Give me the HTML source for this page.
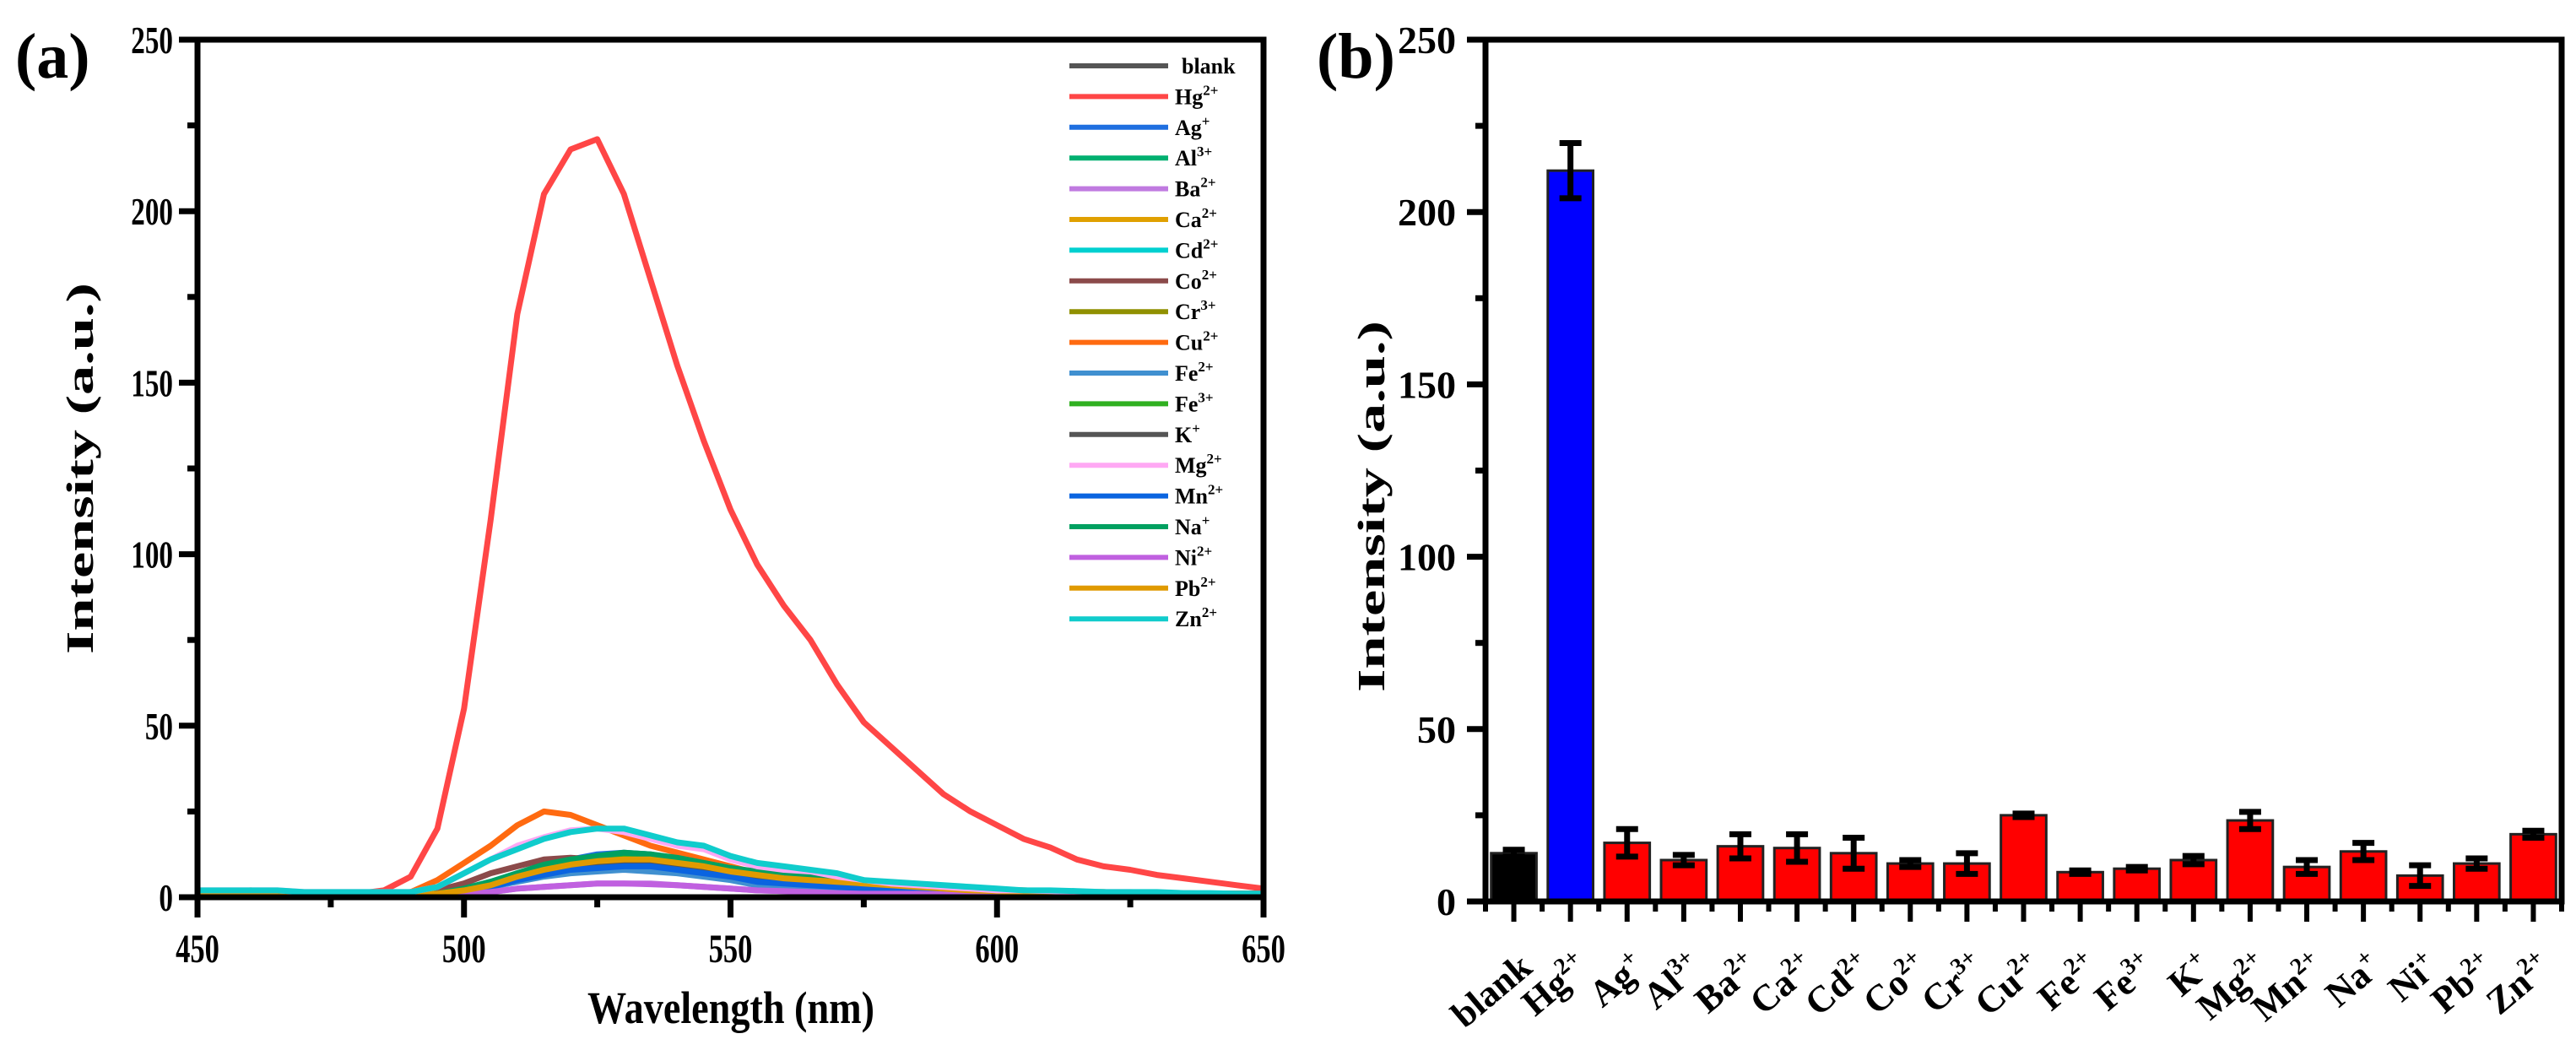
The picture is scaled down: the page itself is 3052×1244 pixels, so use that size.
<!DOCTYPE html>
<html><head><meta charset="utf-8">
<style>
html,body{margin:0;padding:0;background:#fff;}
svg{display:block;font-family:"Liberation Serif",serif;font-weight:bold;}
</style></head>
<body>
<svg id="fig" width="3052" height="1244" viewBox="0 0 3052 1244" xmlns="http://www.w3.org/2000/svg">
<text x="18" y="92" font-size="76">(a)</text>
<text x="1560" y="92" font-size="76">(b)</text>
<g id="left"></g>
<g id="right"></g>
</svg>
<script>
// ---------- data: spectra (wavelength 450..650 step 5) ----------
const wavelengths = [450,455,460,465,470,475,480,485,490,495,500,505,510,515,520,525,530,535,540,545,550,555,560,565,570,575,580,585,590,595,600,605,610,615,620,625,630,635,640,645,650];
const ionNames = ["blank","Hg","Ag","Al","Ba","Ca","Cd","Co","Cr","Cu","Fe","Fe","K","Mg","Mn","Na","Ni","Pb","Zn"];
const ionCharges = ["","2+","+","3+","2+","2+","2+","2+","3+","2+","2+","3+","+","2+","2+","+","2+","2+","2+"];
const ionColors = ["#555555","#ff4646","#1f6fe0","#00b070","#c07ae0","#e0a000","#00d0d0","#8b4a4a","#909000","#ff6a10","#4090d0","#30b020","#555555","#ffa8f4","#0a64e0","#00a060","#c060e0","#e09a00","#10cccc"];
const sBlank = [1.5,1.5,1.8,1.2,1,1,1,1.2,1.5,1,2,3.5,5.5,7,8,8.5,9,9,8.5,7.5,6.5,5.5,5,4.5,4,3.5,3,2.5,2,1.8,1.5,1.5,1.2,1.2,1,1,1,1,1,1,1];
const sHg = [1,1,1,1,1,1,1,2,6,20,55,110,170,205,218,221,205,180,155,133,113,97,85,75,62,51,44,37,30,25,21,17,14.5,11,9,8,6.5,5.5,4.5,3.5,2.5];
const sAg = [1.5,1.5,1.5,1.2,1,1,1,1,1,1,2,4,7,9,11,12.5,13,12.5,11,9.5,8,6.5,6,5,4,3.5,3,2.5,2,2,1.8,1.5,1.5,1.5,1.2,1.2,1,1,1,1,1];
const sAl = [1.5,1.5,1.5,1.2,1,1,1,1,1,1,2,4,6.5,8.5,10,11.5,12,11.5,10.5,9,8,7,6,5,4.5,4,3.5,3,2.5,2.2,2,1.8,1.5,1.5,1.2,1.2,1.2,1,1,1,1];
const sBa = [1.5,1.5,1.5,1.2,1,1,1,1,1,0.5,1,1.5,2.5,3,3.5,4,4,4,3.5,3,2.5,2,1.8,1.5,1.2,1,1,1,0.8,0.8,0.8,0.6,0.6,0.6,0.5,0.5,0.5,0.5,0.5,0.5,0.5];
const sCa = [0.8,0.8,1,1,1,1,1,1,1,1,2,3,5,7,8.5,9.5,10,10,9,8,7,6,5,4.5,4,3.5,3,2.5,2,1.8,1.5,1.5,1.2,1.2,1,1,1,1,1,1,1];
const sCd = [1.5,1.5,1.5,1.2,1,1,1,1,1,1,2.5,4.5,7,9,10.5,11.5,12,11.5,10.5,9.5,8,6.5,6,5,4.5,4,3.5,3,2.5,2,2,1.8,1.5,1.5,1.2,1.2,1,1,1,1,1];
const sCo = [1.5,1.5,1.5,1.2,1,1,1,1,1,2,4,7,9,11,11.5,11,10,9,8,7,6,5,4.5,4,3.5,3,2.5,2,2,1.8,1.5,1.5,1.2,1,1,1,1,1,1,1,1];
const sCr = [1.5,1.5,1.5,1.2,1,1,1,1,1,1,2,4,6,8,9.5,10.5,11,11,10,9,7.5,6.5,5.5,5,4.5,4,3.5,3,2.5,2,1.8,1.5,1.5,1.2,1.2,1,1,1,1,1,1];
const sCu = [1,1,1,1,1,1,1,1,1.5,5,10,15,21,25,24,21,18,15,13,11,9,7,6,5,4,3.5,3,2.5,2,1.8,1.5,1.5,1.2,1,1,1,1,1,1,1,1];
const sFe2 = [1.5,1.5,1.5,1.2,1,1,1,1,1,1,1.5,3,4.5,6,7,7.5,8,7.5,7,6,5,3.5,3,2.5,2,1.8,1.5,1.5,1.2,1.2,1,1,1,1,1,1,1,1,1,1,1];
const sFe3 = [1.5,1.5,2,1.2,1,1,1,1,1,1,2,4,6.5,8.5,10,11.5,12,12,11,10,8.5,7,6.5,6,5,4.5,4,3.5,3,2.5,2.2,2,1.8,1.5,1.5,1.2,1.2,1.2,1,1,1];
const sK = [1.5,1.5,1.5,1.2,1,1,1,1,1,1,2,3.5,5.5,7.5,9,9.5,10,9.5,8.5,7.5,6.5,5.5,5,4.5,4,3.5,3,2.5,2,1.8,1.5,1.5,1.2,1.2,1,1,1,1,1,1,1];
const sMg = [2,2,2,2,1.5,1.5,1.5,1.5,1.5,3,7,11,15,17.5,19.5,20,19,17,15,14,11,9,8,7.5,6,5,4,3.5,3,2.5,2,2,1.8,1.5,1.5,1.5,1.2,1.2,1,1,1];
const sMn = [1.5,1.5,1.5,1.2,1,1,1,1,1,1,2,3,5,6.5,8,8.5,9,9,8,7,6,4.5,4,3.5,3,2.5,2,1.8,1.5,1.5,1.2,1.2,1,1,1,1,1,1,1,1,1];
const sNa = [1.5,1.5,1.5,1.2,1,1,1,1,1,1,2.5,4.5,7,9.5,11,12,13,12.5,11.5,10,8.5,7.5,6.5,6,5,4.5,4,3.5,3,2.5,2.2,2,1.8,1.5,1.5,1.2,1.2,1,1,1,1];
const sNi = [1.5,1.5,1.5,1.2,1,1,1,1,1,0.5,1,1.5,2.5,3,3.5,4,4,3.8,3.5,3,2.5,2,1.8,1.5,1.2,1,1,1,0.8,0.8,0.8,0.6,0.6,0.6,0.5,0.5,0.5,0.5,0.5,0.5,0.5];
const sPb = [0.8,0.8,1,1,1,1,1,1,1,1,2,3.5,6,8,9.5,10.5,11,11,10,9,7.5,6.5,5.5,5,4.5,4,3.5,3,2.5,2,1.8,1.5,1.5,1.2,1.2,1,1,1,1,1,1];
const sZn = [2,2,2,2,1.5,1.5,1.5,1.5,1.5,3,7,11,14,17,19,20,20,18,16,15,12,10,9,8,7,5,4.5,4,3.5,3,2.5,2,2,1.8,1.5,1.5,1.5,1.2,1.2,1,1];
const spectra = [sBlank,sHg,sAg,sAl,sBa,sCa,sCd,sCo,sCr,sCu,sFe2,sFe3,sK,sMg,sMn,sNa,sNi,sPb,sZn];
const xTicksA = [450,500,550,600,650];
const yTicks = [0,50,100,150,200,250];

// ---------- data: bars ----------
const barCats = ["blank","Hg","Ag","Al","Ba","Ca","Cd","Co","Cr","Cu","Fe","Fe","K","Mg","Mn","Na","Ni","Pb","Zn"];
const barCharges = ["","2+","+","3+","2+","2+","2+","2+","3+","2+","2+","3+","+","2+","2+","+","+","2+","2+"];
const barValues = [14,212,17,12,16,15.5,14,11,11,25,8.5,9.5,12,23.5,10,14.5,7.5,11,19.5];
const barErrors = [1,8,4,1.5,3.5,4,4.5,1,3,0.5,0.5,0.5,1.2,2.5,2,2.5,3,1.5,1];
const barColors = ["#000000","#0000ff","#ff0000","#ff0000","#ff0000","#ff0000","#ff0000","#ff0000","#ff0000","#ff0000","#ff0000","#ff0000","#ff0000","#ff0000","#ff0000","#ff0000","#ff0000","#ff0000","#ff0000"];

const NS = "http://www.w3.org/2000/svg";
function mk(tag, attrs, parent){const e=document.createElementNS(NS,tag);for(const k in attrs)e.setAttribute(k,attrs[k]);parent.appendChild(e);return e;}

// ---------- panel A ----------
const A = document.getElementById('left');
const aL=234, aR=1497, aT=47, aB=1063;
const ax = v => aL + (v-450)/(650-450)*(aR-aL);
const ay = v => aB - v/250*(aB-aT);

const clipA = mk('clipPath',{id:'clipA'},A);
mk('rect',{x:aL,y:aT,width:aR-aL,height:aB-aT},clipA);
const linesG = mk('g',{'clip-path':'url(#clipA)'},A);


const order=[1,0,2,3,4,5,6,7,8,9,10,11,12,14,15,16,17,13,18];
order.forEach(i=>{
  const d = wavelengths.map((w,j)=>(j?'L':'M')+ax(w).toFixed(1)+','+ay(spectra[i][j]).toFixed(1)).join(' ');
  const p = mk('path',{d:d,fill:'none',stroke:ionColors[i],'stroke-width':7,'stroke-linejoin':'round'},linesG);
  
  
});
const frA = mk('rect',{x:aL,y:aT,width:aR-aL,height:aB-aT,fill:'none',stroke:'#000','stroke-width':7},A);


for(let v=0; v<=250; v+=25){
  const major = v%50===0;
  mk('line',{x1:aL-(major?22:12),x2:aL,y1:ay(v),y2:ay(v),stroke:'#000','stroke-width':7},A);
}
yTicks.forEach(v=>{
  const t=mk('text',{x:205,y:ay(v)+16,'font-size':46,'text-anchor':'end',transform:`translate(205,0) scale(0.72,1) translate(-205,0)`},A);
  t.textContent=v;
  
  
});
for(let v=450; v<=650; v+=25){
  const major = v%50===0;
  mk('line',{x1:ax(v),x2:ax(v),y1:aB,y2:aB+(major?24:12),stroke:'#000','stroke-width':7},A);
}
xTicksA.forEach(v=>{
  const x=ax(v);
  const t=mk('text',{x:x,y:1140,'font-size':48,'text-anchor':'middle',transform:`translate(${x},0) scale(0.72,1) translate(${-x},0)`},A);
  t.textContent=v;
  
  
});
const xtA=mk('text',{x:866,y:1212,'font-size':54,'text-anchor':'middle',textLength:340,lengthAdjust:'spacingAndGlyphs'},A);
xtA.textContent='Wavelength (nm)';


const ytA=mk('text',{x:0,y:0,'font-size':46,'text-anchor':'middle',transform:'translate(110,555) rotate(-90)',textLength:440,lengthAdjust:'spacingAndGlyphs'},A);
ytA.textContent='Intensity (a.u.)';


const legG = mk('g',{},A);


ionNames.forEach((n,i)=>{
  const y=78+i*36.4;
  const g=mk('g',{},legG);
  
  
  mk('line',{x1:1267,x2:1384,y1:y,y2:y,stroke:ionColors[i],'stroke-width':6},g);
  const t=mk('text',{x:i===0?1400:1392,y:y+9,'font-size':26},g);
  t.textContent=n;
  if(ionCharges[i]){const s=mk('tspan',{dy:-11,'font-size':17},t);s.textContent=ionCharges[i];}
});

// ---------- panel B ----------
const B = document.getElementById('right');
const bL=1760, bR=3035, bT=47, bB=1068;
const n = barCats.length;
const step=(bR-bL)/n;
const bx = i => bL + step*(i+0.5);
const by = v => bB - v/250*(bB-bT);
const bw = step*0.8;
barValues.forEach((v,i)=>{
  const r=mk('rect',{x:bx(i)-bw/2,y:by(v),width:bw,height:bB-by(v),fill:barColors[i],stroke:'#222','stroke-width':3},B);
  
  
});
barValues.forEach((v,i)=>{
  const e=barErrors[i], x=bx(i);
  const g=mk('g',{stroke:'#000','stroke-width':7},B);
  
  
  mk('line',{x1:x,x2:x,y1:by(v+e),y2:by(v-e)},g);
  mk('line',{x1:x-13,x2:x+13,y1:by(v+e),y2:by(v+e)},g);
  mk('line',{x1:x-13,x2:x+13,y1:by(v-e),y2:by(v-e)},g);
});
const frB = mk('rect',{x:bL,y:bT,width:bR-bL,height:bB-bT,fill:'none',stroke:'#000','stroke-width':7},B);


for(let v=0; v<=250; v+=25){
  const major=v%50===0;
  mk('line',{x1:bL-(major?22:12),x2:bL,y1:by(v),y2:by(v),stroke:'#000','stroke-width':7},B);
}
yTicks.forEach(v=>{
  const t=mk('text',{x:1725,y:by(v)+16,'font-size':46,'text-anchor':'end'},B);
  t.textContent=v;
  
  
});
for(let i=0;i<=n;i++){ mk('line',{x1:bL+step*i,x2:bL+step*i,y1:bB,y2:bB+12,stroke:'#000','stroke-width':6},B); }
barCats.forEach((c,i)=>{
  const x=bx(i);
  mk('line',{x1:x,x2:x,y1:bB,y2:bB+24,stroke:'#000','stroke-width':6},B);
  const t=mk('text',{x:0,y:0,'font-size':44,'text-anchor':'end',transform:`translate(${x+24},1150) rotate(-40)`},B);
  t.textContent=c;
  if(barCharges[i]){const s=mk('tspan',{dy:-17,'font-size':28},t);s.textContent=barCharges[i];}
  
  
});
const ytB=mk('text',{x:0,y:0,'font-size':46,'text-anchor':'middle',transform:'translate(1640,600) rotate(-90)',textLength:440,lengthAdjust:'spacingAndGlyphs'},B);
ytB.textContent='Intensity (a.u.)';


</script>
</body></html>
